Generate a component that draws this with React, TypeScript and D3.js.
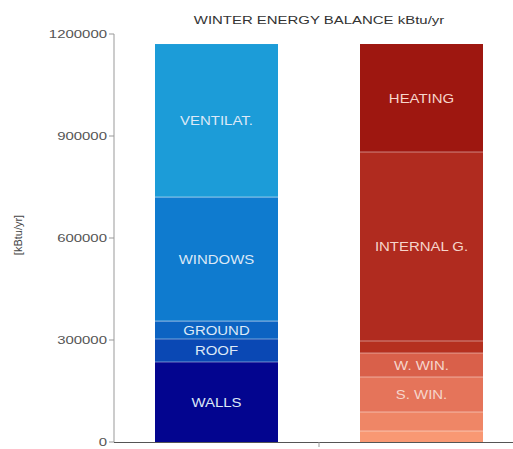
import React from "react";
import * as d3 from "d3";

const categories = ["LOSSES", "GAINS"];
const lossLabels = ["WALLS", "ROOF", "GROUND", "WINDOWS", "VENTILAT."];
const lossValues = [235300, 67600, 52900, 364700, 450000];
const lossColors = ["#03058f", "#0a48b4", "#0c63c2", "#0f7bcf", "#1c9cd8"];
const gainLabels = ["", "", "S. WIN.", "W. WIN.", "", "INTERNAL G.", "HEATING"];
const gainValues = [32350, 55900, 102900, 70600, 35300, 555900, 317600];
const gainColors = ["#f99873", "#ef8666", "#e5745a", "#d9604a", "#b5301f", "#b02b1f", "#9e1710"];
const yTicks = [0, 300000, 600000, 900000, 1200000];

const W = 513;
const H = 449;

function SText(props: { x: number; y: number; sx: number; size: number; fill: string; anchor: string; dy?: string; children: React.ReactNode }) {
  return (
    <text
      transform={`translate(${props.x},${props.y}) scale(${props.sx},1)`}
      dy={props.dy}
      textAnchor={props.anchor}
      fontSize={props.size}
      fill={props.fill}
    >
      {props.children}
    </text>
  );
}

export default function App() {
  const y = d3.scaleLinear().domain([0, 1200000]).range([442, 34]);
  const x = d3.scaleBand().domain(categories).range([114, 524]).paddingInner(0.4).paddingOuter(0.2);
  const stacks = [
    { cat: categories[0], labels: lossLabels, values: lossValues, colors: lossColors, text: "#dde9f7" },
    { cat: categories[1], labels: gainLabels, values: gainValues, colors: gainColors, text: "#f6d6cc" },
  ];
  const font = "'Liberation Sans', Arial, sans-serif";
  return (
    <svg width={W} height={H} style={{ position: "absolute", left: 0, top: 0, background: "#fff" }} fontFamily={font}>
      <SText x={319} y={24} sx={1.3} size={11.5} fill="#333" anchor="middle">WINTER ENERGY BALANCE kBtu/yr</SText>
      <text transform={`translate(22,235) rotate(-90)`} textAnchor="middle" fontSize={11} fill="#444">[kBtu/yr]</text>
      {stacks.map((s) => {
        const cum = [0, ...d3.cumsum(s.values)];
        const bx = x(s.cat)!;
        const bw = x.bandwidth();
        return (
          <g key={s.cat}>
            {s.values.map((v, i) => {
              const y0 = y(cum[i]);
              const y1 = y(cum[i + 1]);
              return (
                <g key={i}>
                  <rect x={bx} y={y1} width={bw} height={y0 - y1} fill={s.colors[i]} />
                  {i > 0 && (
                    <line x1={bx} x2={bx + bw} y1={y0} y2={y0} stroke="#fff" strokeOpacity={0.45} strokeWidth={1.2} />
                  )}
                  {s.labels[i] && (
                    <SText x={bx + bw / 2} y={(y0 + y1) / 2} dy="0.36em" sx={1.15} size={13} fill={s.text} anchor="middle">
                      {s.labels[i]}
                    </SText>
                  )}
                </g>
              );
            })}
          </g>
        );
      })}
      <line x1={114} x2={114} y1={34} y2={442} stroke="#999" />
      {yTicks.map((t) => (
        <g key={t}>
          <line x1={109} x2={114} y1={y(t)} y2={y(t)} stroke="#999" />
          <SText x={107} y={y(t)} dy="0.35em" sx={1.3} size={11.5} fill="#555" anchor="end">{t}</SText>
        </g>
      ))}
      <line x1={114} x2={W} y1={442.5} y2={442.5} stroke="#555" />
      <line x1={x.step() + 114} x2={x.step() + 114} y1={442} y2={447} stroke="#999" />
    </svg>
  );
}
